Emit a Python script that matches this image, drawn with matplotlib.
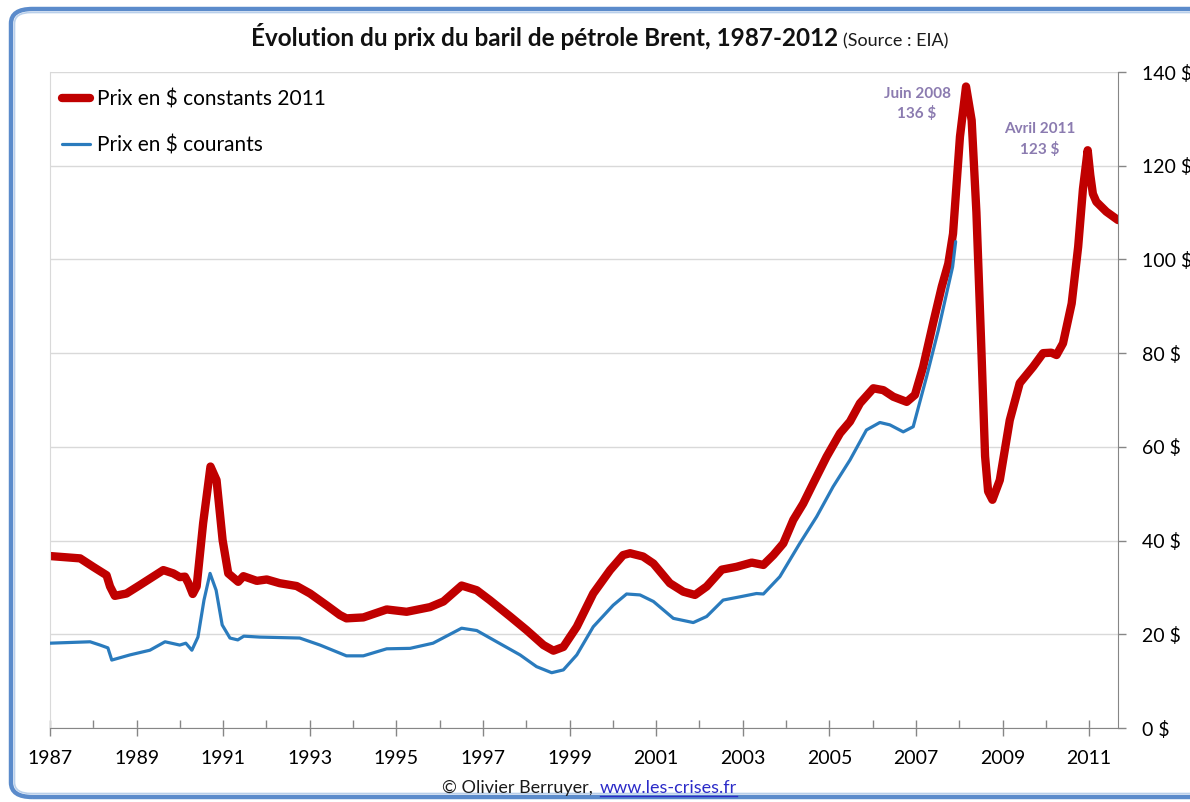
import matplotlib.pyplot as plt
from matplotlib.patches import FancyBboxPatch
from matplotlib.lines import Line2D
from matplotlib.ticker import FixedLocator, FuncFormatter

plt.rcParams['font.family'] = ['Lato', 'DejaVu Sans']

# prix du Brent en $ constants 2011 (annee decimale, $)
red_years = [1987.33, 1988.03, 1988.33, 1988.64, 1988.72, 1988.83, 1989.10, 1989.41,
             1989.95, 1990.18, 1990.33, 1990.45, 1990.53, 1990.63, 1990.72, 1990.87,
             1991.04, 1991.18, 1991.32, 1991.45, 1991.68, 1991.80, 1992.11, 1992.34,
             1992.64, 1993.03, 1993.34, 1993.72, 1994.03, 1994.18, 1994.57, 1995.11,
             1995.57, 1996.11, 1996.42, 1996.84, 1997.19, 1997.49, 1997.96, 1998.34,
             1998.73, 1998.96, 1999.19, 1999.50, 1999.88, 2000.27, 2000.57, 2000.73,
             2001.03, 2001.27, 2001.65, 2001.96, 2002.23, 2002.50, 2002.85, 2003.19,
             2003.54, 2003.81, 2004.04, 2004.27, 2004.50, 2004.73, 2004.96, 2005.27,
             2005.58, 2005.81, 2006.04, 2006.35, 2006.58, 2006.81, 2007.12, 2007.31,
             2007.50, 2007.73, 2007.93, 2008.08, 2008.19, 2008.35, 2008.49, 2008.62,
             2008.73, 2008.84, 2008.93, 2009.00, 2009.10, 2009.27, 2009.50, 2009.73,
             2010.04, 2010.27, 2010.46, 2010.58, 2010.73, 2010.93, 2011.08, 2011.19,
             2011.30, 2011.36, 2011.42, 2011.50, 2011.73, 2012.00]
red_prices = [36.7, 36.2, 34.4, 32.6, 30.2, 28.2, 28.7, 30.5,
              33.7, 33.0, 32.2, 32.3, 30.9, 28.6, 30.2, 43.7,
              55.8, 52.9, 40.1, 33.0, 31.2, 32.4, 31.4, 31.7,
              30.9, 30.3, 28.7, 26.2, 24.1, 23.4, 23.6, 25.3,
              24.8, 25.8, 27.0, 30.4, 29.4, 27.3, 23.8, 20.9,
              17.7, 16.5, 17.3, 21.6, 28.7, 33.7, 36.9, 37.3,
              36.6, 35.1, 30.9, 29.1, 28.4, 30.2, 33.8, 34.4,
              35.3, 34.8, 36.9, 39.4, 44.4, 47.9, 52.2, 57.9,
              62.9, 65.4, 69.3, 72.5, 72.1, 70.7, 69.6, 71.1,
              77.1, 86.4, 94.2, 99.1, 105.5, 126.2, 136.9, 129.7,
              110.0, 82.0, 58.0, 50.5, 48.7, 52.9, 65.7, 73.6,
              77.1, 80.0, 80.1, 79.6, 82.1, 90.6, 102.7, 115.0,
              123.3, 118.0, 114.0, 112.3, 110.2, 108.4]

# prix du Brent en $ courants
blue_years = [1987.33, 1988.26, 1988.49, 1988.67, 1988.76, 1989.18, 1989.64, 1989.99,
              1990.33, 1990.47, 1990.61, 1990.75, 1990.89, 1991.03, 1991.17, 1991.31,
              1991.49, 1991.67, 1991.81, 1992.18, 1993.10, 1993.57, 1994.18, 1994.57,
              1995.11, 1995.65, 1996.18, 1996.84, 1997.19, 1997.65, 1998.19, 1998.57,
              1998.92, 1999.19, 1999.50, 1999.88, 2000.34, 2000.65, 2000.96, 2001.27,
              2001.73, 2002.19, 2002.50, 2002.88, 2003.27, 2003.65, 2003.81, 2004.19,
              2004.65, 2005.04, 2005.42, 2005.81, 2006.19, 2006.50, 2006.73, 2007.04,
              2007.27, 2007.58, 2007.85, 2008.04, 2008.18, 2008.25]
blue_prices = [18.1, 18.4, 17.7, 17.1, 14.5, 15.6, 16.6, 18.4,
               17.7, 18.1, 16.6, 19.4, 27.3, 33.0, 29.4, 22.0,
               19.2, 18.8, 19.6, 19.4, 19.2, 17.7, 15.4, 15.4,
               16.9, 17.0, 18.1, 21.3, 20.8, 18.4, 15.6, 13.1,
               11.8, 12.4, 15.6, 21.6, 26.2, 28.6, 28.4, 27.0,
               23.4, 22.5, 23.8, 27.3, 28.0, 28.7, 28.6, 32.3,
               39.4, 45.1, 51.5, 57.2, 63.6, 65.2, 64.7, 63.2,
               64.3, 75.0, 84.9, 92.7, 98.4, 103.8]

tick_years = list(range(1987, 2012))
label_years = list(range(1987, 2012, 2))
y_ticks = [0, 20, 40, 60, 80, 100, 120, 140]

annotations = [("Juin 2008\n136 $", 2007.36, 133.2),
               ("Avril 2011\n123 $", 2010.20, 125.6)]

W, H = 1190, 802
fig = plt.figure(figsize=(W / 100, H / 100), dpi=100)
ax = fig.add_axes([50 / W, (H - 728) / H, (1118 - 50) / W, (728 - 72) / H])

# cadre arrondi facon Excel
fig.patches.append(FancyBboxPatch((11 / W, 5 / H), 1.2, 1 - 14 / H,
                                  boxstyle="round,pad=0,rounding_size=0.018",
                                  transform=fig.transFigure, fill=False,
                                  edgecolor='#5b8bcb', linewidth=3.2, zorder=0))
fig.patches.append(FancyBboxPatch((14.5 / W, 8.5 / H), 1.2, 1 - 21 / H,
                                  boxstyle="round,pad=0,rounding_size=0.014",
                                  transform=fig.transFigure, fill=False,
                                  edgecolor='#b9cfea', linewidth=1.2, zorder=0))

ax.plot(blue_years, blue_prices, color='#2a7bbd', linewidth=2.3,
        solid_joinstyle='round', solid_capstyle='round', label='Prix en $ courants', zorder=3)
ax.plot(red_years, red_prices, color='#c00000', linewidth=6.0,
        solid_joinstyle='round', solid_capstyle='round', label='Prix en $ constants 2011', zorder=2)

off = 1 / 3  # les libelles sont places en mai de chaque annee
ax.set_xlim(1987 + off, 2012.0)
ax.set_ylim(0, 140)

ax.xaxis.set_major_locator(FixedLocator([y + off for y in label_years]))
ax.xaxis.set_minor_locator(FixedLocator([y + off for y in tick_years if y not in label_years]))
ax.set_xticklabels([str(y) for y in label_years])
ax.tick_params(axis='x', which='major', direction='inout', length=12, width=1,
               color='#868686', labelsize=14, pad=10)
ax.tick_params(axis='x', which='minor', direction='in', length=6, width=1, color='#868686')

ax.yaxis.tick_right()
ax.set_yticks(y_ticks)
ax.yaxis.set_major_formatter(FuncFormatter(lambda v, p: f"{int(v)} $"))
ax.tick_params(axis='y', direction='out', length=6, width=1, color='#868686',
               labelsize=14, pad=11)

ax.grid(axis='y', color='#d9d9d9', linewidth=1)
ax.set_axisbelow(True)
ax.spines['top'].set_visible(False)
ax.spines['left'].set_color('#d9d9d9')
ax.spines['bottom'].set_color('#868686')
ax.spines['right'].set_color('#868686')

for txt, xx, yy in annotations:
    ax.text(xx, yy, txt, ha='center', va='center', fontsize=11, fontweight='bold',
            color='#8b7bb0', linespacing=1.45)

handles, labels = ax.get_legend_handles_labels()
fig.legend(handles[::-1], labels[::-1], loc='upper left', bbox_to_anchor=(62 / W, 1 - 89 / H),
           frameon=False, fontsize=15, handlelength=1.35, handletextpad=0.35,
           labelspacing=1.25, borderpad=0, borderaxespad=0)

fig.text(838 / W, 1 - 46 / H, "Évolution du prix du baril de pétrole Brent, 1987-2012",
         ha='right', va='baseline', fontsize=17.5, fontweight='bold', color='#111111')
fig.text(843 / W, 1 - 46 / H, "(Source : EIA)", ha='left', va='baseline',
         fontsize=13, color='#1a1a1a')

t1 = fig.text(597 / W, 1 - 793 / H, "© Olivier Berruyer, ", ha='right', va='baseline',
              fontsize=13, color='#1a1a1a')
t2 = fig.text(600 / W, 1 - 793 / H, "www.les-crises.fr", ha='left', va='baseline',
              fontsize=13, color='#2b2bc8')
fig.canvas.draw()
bb = t2.get_window_extent()
fig.lines.append(Line2D([bb.x0 / W, bb.x1 / W], [(H - 796) / H, (H - 796) / H],
                        transform=fig.transFigure, color='#2b2bc8', linewidth=1))

fig.savefig('out.png', dpi=100)
